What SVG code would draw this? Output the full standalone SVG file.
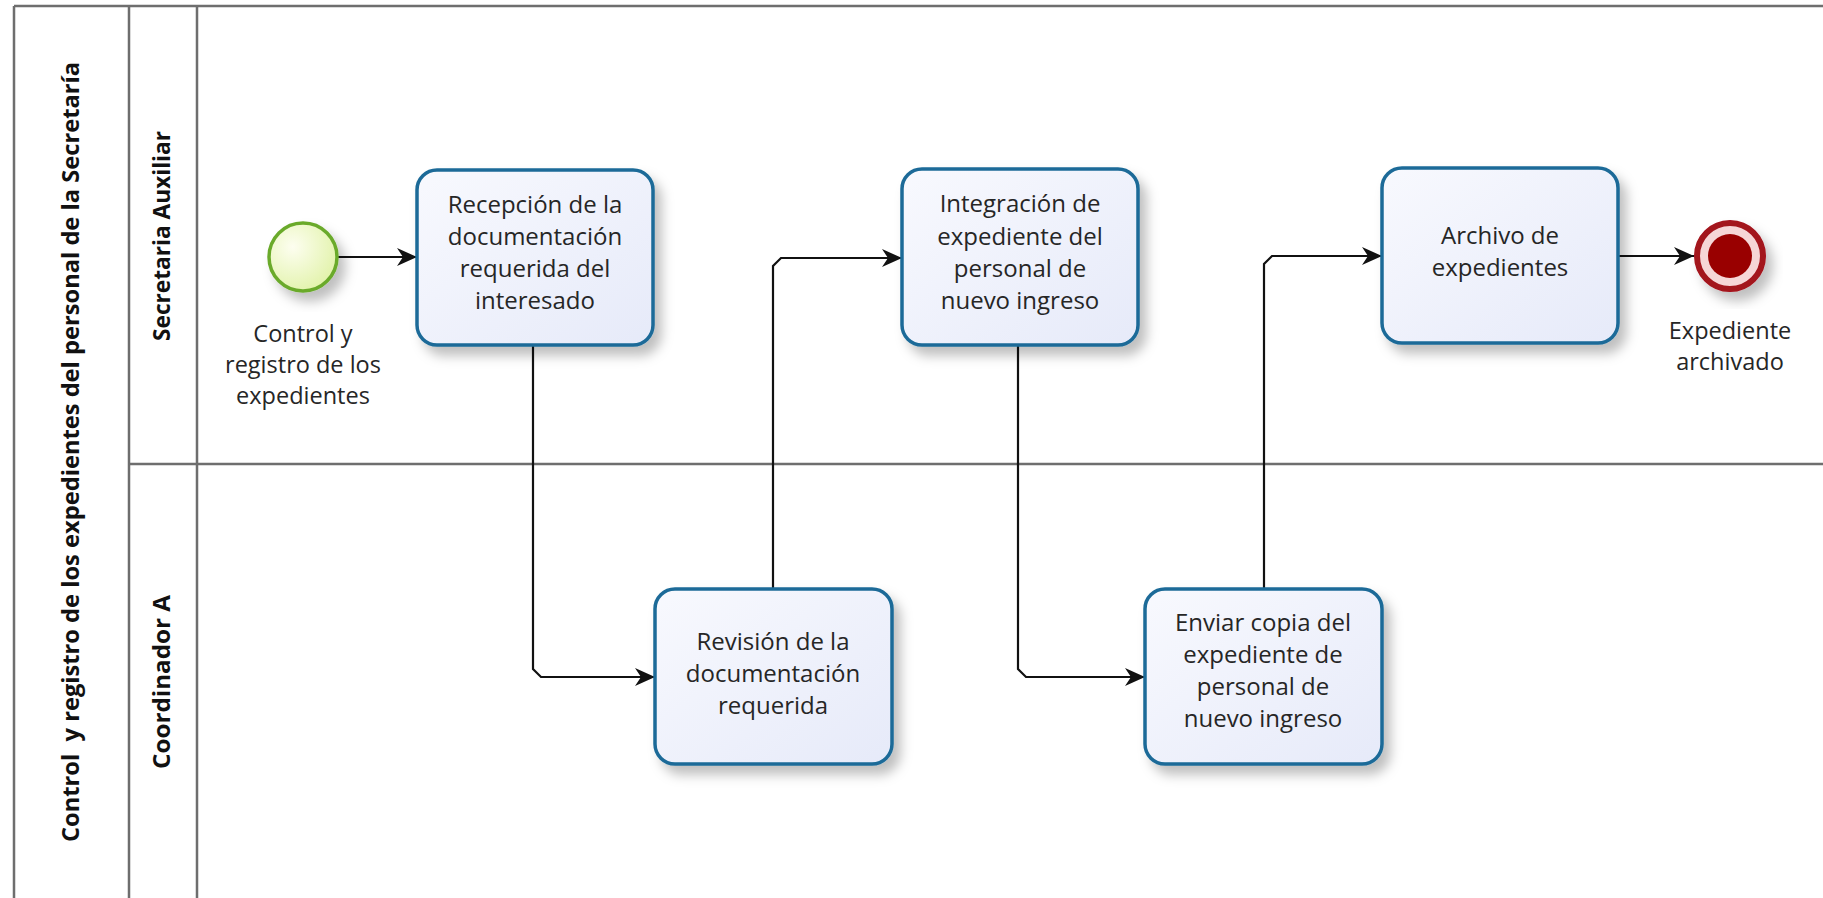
<svg xmlns="http://www.w3.org/2000/svg" width="1823" height="898" viewBox="0 0 1823 898">
<style>
.lane{stroke:#6e6e6e;stroke-width:2.5;fill:none}
.task{fill:url(#taskFill);stroke:#1d6b98;stroke-width:3.5;filter:url(#sh)}
.t{font-family:"Open Sans","Noto Sans",sans-serif;font-size:24px;fill:#262626;text-anchor:middle}
.e{font-family:"Open Sans","Noto Sans",sans-serif;font-size:23.5px;fill:#262626;text-anchor:middle}
.h{font-family:"Open Sans","Noto Sans",sans-serif;font-weight:bold;font-size:22.5px;fill:#111;text-anchor:middle}
.c{stroke:#111;stroke-width:2.2;fill:none;marker-end:url(#arr)}
</style>
<defs>
<linearGradient id="taskFill" x1="0" y1="0" x2="1" y2="1">
<stop offset="0" stop-color="#f8f9fe"/>
<stop offset="1" stop-color="#e6eaf9"/>
</linearGradient>
<radialGradient id="startFill" cx="0.35" cy="0.35" r="0.75">
<stop offset="0" stop-color="#fdfef0"/>
<stop offset="1" stop-color="#e0f2a6"/>
</radialGradient>
<filter id="sh" x="-20%" y="-20%" width="150%" height="150%">
<feDropShadow dx="7" dy="9" stdDeviation="6" flood-color="#000" flood-opacity="0.25"/>
</filter>
<marker id="arr" markerUnits="userSpaceOnUse" markerWidth="22" markerHeight="20" refX="20" refY="9" orient="auto">
<path d="M0,0 L20,9 L0,18 L6,9 z" fill="#111"/>
</marker>
</defs>

<g id="pool">
<line class="lane" x1="14" y1="6" x2="1823" y2="6"/>
<line class="lane" x1="14" y1="6" x2="14" y2="898"/>
<line class="lane" x1="129" y1="6" x2="129" y2="898"/>
<line class="lane" x1="197" y1="6" x2="197" y2="898"/>
<line class="lane" x1="129" y1="464" x2="1823" y2="464"/>
<text class="h" transform="translate(79,452) rotate(-90)" textLength="780" lengthAdjust="spacingAndGlyphs">Control&#160; y registro de los expedientes del personal de la Secretaría</text>
<text class="h" transform="translate(170,236) rotate(-90)" textLength="210" lengthAdjust="spacingAndGlyphs">Secretaria Auxiliar</text>
<text class="h" transform="translate(170,682) rotate(-90)" textLength="174" lengthAdjust="spacingAndGlyphs">Coordinador A</text>
</g>

<g id="connectors">
<path class="c" d="M338,257 H417"/>
<path class="c" d="M533,345 V669 L541,677 H655"/>
<path class="c" d="M773,589 V266 L781,258 H902"/>
<path class="c" d="M1018,345 V669 L1026,677 H1145"/>
<path class="c" d="M1264,589 V264 L1272,256 H1382"/>
<path class="c" d="M1618,256 H1694"/>
</g>

<g id="start">
<circle cx="303" cy="257" r="34" fill="url(#startFill)" stroke="#6aaa2c" stroke-width="3.5" filter="url(#sh)"/>
<text class="e"><tspan x="303" y="342">Control y</tspan><tspan x="303" y="373">registro de los</tspan><tspan x="303" y="404">expedientes</tspan></text>
</g>

<g id="recepcion">
<rect class="task" x="417" y="170" width="236" height="175" rx="20"/>
<text class="t"><tspan x="535" y="213">Recepción de la</tspan><tspan x="535" y="245">documentación</tspan><tspan x="535" y="277">requerida del</tspan><tspan x="535" y="309">interesado</tspan></text>
</g>

<g id="revision">
<rect class="task" x="655" y="589" width="237" height="175" rx="20"/>
<text class="t"><tspan x="773" y="650">Revisión de la</tspan><tspan x="773" y="682">documentación</tspan><tspan x="773" y="714">requerida</tspan></text>
</g>

<g id="integracion">
<rect class="task" x="902" y="169" width="236" height="176" rx="20"/>
<text class="t"><tspan x="1020" y="212">Integración de</tspan><tspan x="1020" y="245">expediente del</tspan><tspan x="1020" y="277">personal de</tspan><tspan x="1020" y="309">nuevo ingreso</tspan></text>
</g>

<g id="enviar">
<rect class="task" x="1145" y="589" width="237" height="175" rx="20"/>
<text class="t"><tspan x="1263" y="631">Enviar copia del</tspan><tspan x="1263" y="663">expediente de</tspan><tspan x="1263" y="695">personal de</tspan><tspan x="1263" y="727">nuevo ingreso</tspan></text>
</g>

<g id="archivo">
<rect class="task" x="1382" y="168" width="236" height="175" rx="20"/>
<text class="t"><tspan x="1500" y="244">Archivo de</tspan><tspan x="1500" y="276">expedientes</tspan></text>
</g>

<g id="end">
<circle cx="1730" cy="256" r="33" fill="#f6d6d6" stroke="#a3121b" stroke-width="6" filter="url(#sh)"/>
<circle cx="1730" cy="256" r="22" fill="#990000"/>
<text class="e"><tspan x="1730" y="339">Expediente</tspan><tspan x="1730" y="370">archivado</tspan></text>
</g>
</svg>
